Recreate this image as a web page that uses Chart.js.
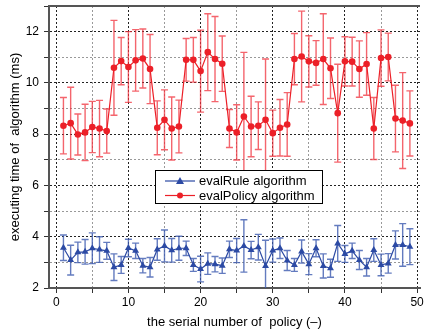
<!DOCTYPE html>
<html>
<head>
<meta charset="utf-8">
<script src="https://cdn.jsdelivr.net/npm/chart.js"></script>
<style>
  html, body { margin: 0; padding: 0; background: #fff; overflow: hidden; }
  #wrap { width: 424px; height: 335px; }
</style>
</head>
<body>
<div id="wrap"><canvas id="chart" width="424" height="335"></canvas></div>
<script>
// serial number of policy
const policyIds = [1, 2, 3, 4, 5, 6, 7, 8, 9, 10, 11, 12, 13, 14, 15, 16, 17, 18, 19, 20,
  21, 22, 23, 24, 25, 26, 27, 28, 29, 30, 31, 32, 33, 34, 35, 36, 37, 38, 39, 40,
  41, 42, 43, 44, 45, 46, 47, 48, 49];

// evalRule algorithm (ms), mean and error
const evalRuleMean = [3.57, 3.09, 3.39, 3.41, 3.55, 3.50, 3.45, 2.81, 2.90, 3.56,
  3.45, 2.87, 2.81, 3.50, 3.64, 3.47, 3.55, 3.55, 2.90, 2.74,
  2.95, 2.93, 2.87, 3.51, 3.46, 3.64, 3.48, 3.59, 2.86, 3.46,
  3.55, 3.07, 2.90, 3.42, 2.93, 3.55, 2.86, 2.77, 3.74, 3.33,
  3.45, 3.09, 2.81, 3.48, 2.90, 2.96, 3.68, 3.68, 3.61];
const evalRuleErr = [0.50, 0.58, 0.40, 0.48, 0.60, 0.50, 0.33, 0.52, 0.33, 0.34,
  0.30, 0.28, 0.38, 0.42, 0.62, 0.46, 0.47, 0.28, 0.25, 0.50,
  0.42, 0.30, 0.30, 0.32, 0.47, 1.02, 0.34, 0.50, 1.00, 0.45,
  0.40, 0.39, 0.25, 0.45, 0.41, 0.33, 0.47, 0.35, 0.70, 0.33,
  0.30, 0.37, 0.34, 0.44, 0.42, 0.38, 0.55, 0.83, 0.70];

// evalPolicy algorithm (ms), mean and error
const evalPolicyMean = [8.33, 8.43, 7.99, 8.07, 8.28, 8.22, 8.12, 10.59, 10.85, 10.62,
  10.88, 10.95, 10.54, 8.25, 8.56, 8.22, 8.30, 10.90, 10.90, 10.46,
  11.20, 10.93, 10.75, 8.22, 8.07, 8.69, 8.30, 8.33, 8.56, 8.04,
  8.25, 8.38, 10.93, 11.03, 10.84, 10.78, 10.93, 10.57, 8.82, 10.84,
  10.83, 10.54, 10.74, 8.22, 10.97, 11.01, 8.61, 8.53, 8.42];
const evalPolicyErr = [1.10, 1.40, 0.80, 1.10, 1.00, 1.10, 0.86, 1.85, 0.92, 1.38,
  1.20, 1.15, 1.35, 1.05, 1.17, 1.23, 1.03, 0.83, 0.87, 1.60,
  1.50, 1.66, 1.08, 0.74, 1.08, 2.50, 1.18, 0.93, 2.37, 0.90,
  1.10, 1.24, 1.00, 1.77, 1.00, 0.87, 1.77, 1.18, 1.91, 0.96,
  0.95, 1.10, 1.22, 1.21, 1.10, 0.93, 1.30, 1.87, 1.27];

const xTicks = [0, 5, 10, 15, 20, 25, 30, 35, 40, 45, 50];
const yTicks = [2, 3, 4, 5, 6, 7, 8, 9, 10, 11, 12, 13];

const RED = "rgb(236, 32, 40)";
const BLUE = "rgb(44, 74, 164)";
const FONT = "'Liberation Sans', Arial, sans-serif";

const toPoints = (vals) => policyIds.map((id, i) => ({ x: id, y: vals[i] }));

// vertical error bars with caps, drawn under the markers
const errorBars = {
  id: "errorBars",
  beforeDatasetsDraw(chart) {
    const { ctx, chartArea, scales } = chart;
    ctx.save();
    ctx.beginPath();
    ctx.rect(chartArea.left, chartArea.top, chartArea.width, chartArea.height);
    ctx.clip();
    chart.data.datasets.forEach((ds, di) => {
      const meta = chart.getDatasetMeta(di);
      ctx.strokeStyle = ds.errorColor;
      ctx.lineWidth = 1.4;
      meta.data.forEach((pt, i) => {
        const v = ds.data[i].y;
        const e = ds.errors[i];
        const top = scales.y.getPixelForValue(v + e);
        const bot = scales.y.getPixelForValue(v - e);
        ctx.beginPath();
        ctx.moveTo(pt.x, top); ctx.lineTo(pt.x, bot);
        ctx.moveTo(pt.x - 3.5, top); ctx.lineTo(pt.x + 3.5, top);
        ctx.moveTo(pt.x - 3.5, bot); ctx.lineTo(pt.x + 3.5, bot);
        ctx.stroke();
      });
    });
    ctx.restore();
  }
};

// top frame line + boxed legend inside the plot
const frameAndLegend = {
  id: "frameAndLegend",
  afterDraw(chart) {
    const { ctx, chartArea } = chart;
    ctx.save();
    ctx.strokeStyle = "#555";
    ctx.lineWidth = 2;
    ctx.beginPath();
    ctx.moveTo(chartArea.left - 1, chartArea.top);
    ctx.lineTo(chartArea.right, chartArea.top);
    ctx.stroke();

    const bx = 155.5, by = 170.5, bw = 167, bh = 33;
    ctx.fillStyle = "#fff";
    ctx.fillRect(bx, by, bw, bh);
    ctx.strokeStyle = "#000";
    ctx.lineWidth = 1;
    ctx.strokeRect(bx, by, bw, bh);

    ctx.font = "13px " + FONT;
    ctx.textBaseline = "middle";
    chart.data.datasets.forEach((ds, i) => {
      const cy = 181 + i * 14.5;
      ctx.strokeStyle = ds.borderColor;
      ctx.lineWidth = 1.2;
      ctx.beginPath();
      ctx.moveTo(165, cy); ctx.lineTo(195, cy);
      ctx.stroke();
      ctx.fillStyle = ds.borderColor;
      ctx.beginPath();
      if (ds.pointStyle === "triangle") {
        ctx.moveTo(180, cy - 4); ctx.lineTo(184, cy + 3); ctx.lineTo(176, cy + 3);
        ctx.closePath();
      } else {
        ctx.arc(180, cy, 3, 0, Math.PI * 2);
      }
      ctx.fill();
      ctx.fillStyle = "#000";
      ctx.fillText(ds.label, 199, cy + 0.5);
    });
    ctx.restore();
  }
};

new Chart(document.getElementById("chart"), {
  type: "line",
  data: {
    datasets: [
      {
        label: "evalRule algorithm",
        data: toPoints(evalRuleMean),
        errors: evalRuleErr,
        errorColor: "rgba(60, 90, 175, 0.8)",
        borderColor: BLUE,
        backgroundColor: BLUE,
        borderWidth: 1.2,
        pointStyle: "triangle",
        pointRadius: 4,
        pointBorderWidth: 0,
        tension: 0
      },
      {
        label: "evalPolicy algorithm",
        data: toPoints(evalPolicyMean),
        errors: evalPolicyErr,
        errorColor: "rgba(240, 50, 60, 0.75)",
        borderColor: RED,
        backgroundColor: RED,
        borderWidth: 1.2,
        pointStyle: "circle",
        pointRadius: 3.3,
        pointBorderWidth: 0,
        tension: 0
      }
    ]
  },
  options: {
    responsive: false,
    animation: false,
    devicePixelRatio: 1,
    layout: { padding: { top: 6, right: 0, left: 0, bottom: 0 } },
    plugins: {
      legend: { display: false },
      tooltip: { enabled: false }
    },
    scales: {
      x: {
        type: "linear",
        min: -1,
        max: 50.4,
        afterBuildTicks: (s) => { s.ticks = xTicks.map((v) => ({ value: v })); },
        afterFit: (s) => { s.height = 47; s.paddingLeft = 0; s.paddingRight = 0; },
        ticks: {
          callback: (v) => (v % 10 === 0 ? String(v) : ""),
          color: "#000",
          font: { size: 12, family: FONT },
          padding: 2,
          maxRotation: 0,
          autoSkip: false
        },
        grid: {
          color: (c) => (c.tick && c.tick.value % 10 === 0 ? "#222" : "#999"),
          lineWidth: 1,
          tickLength: 5,
          tickColor: "#333"
        },
        border: { display: true, color: "#555", width: 2, dash: [2, 2] },
        title: {
          display: true,
          text: "the serial number of  policy (–)",
          color: "#000",
          font: { size: 13, family: FONT },
          padding: { top: 4, bottom: 5 }
        }
      },
      y: {
        min: 2,
        max: 13,
        afterBuildTicks: (s) => { s.ticks = yTicks.map((v) => ({ value: v })); },
        afterFit: (s) => { s.width = 49; s.paddingTop = 0; s.paddingBottom = 0; },
        ticks: {
          callback: (v) => (v % 2 === 0 && v <= 12 ? String(v) : ""),
          color: "#000",
          font: { size: 12, family: FONT },
          padding: 5
        },
        grid: {
          color: (c) => (c.tick && c.tick.value % 2 === 0 ? "#222" : "#999"),
          lineWidth: 1,
          tickLength: 5,
          tickColor: "#333"
        },
        border: { display: true, color: "#555", width: 2, dash: [2, 2] },
        title: {
          display: true,
          text: "executing time of  algorithm (ms)",
          color: "#000",
          font: { size: 13, family: FONT },
          padding: { top: 8, bottom: 0 }
        }
      }
    }
  },
  plugins: [errorBars, frameAndLegend]
});
</script>
</body>
</html>
